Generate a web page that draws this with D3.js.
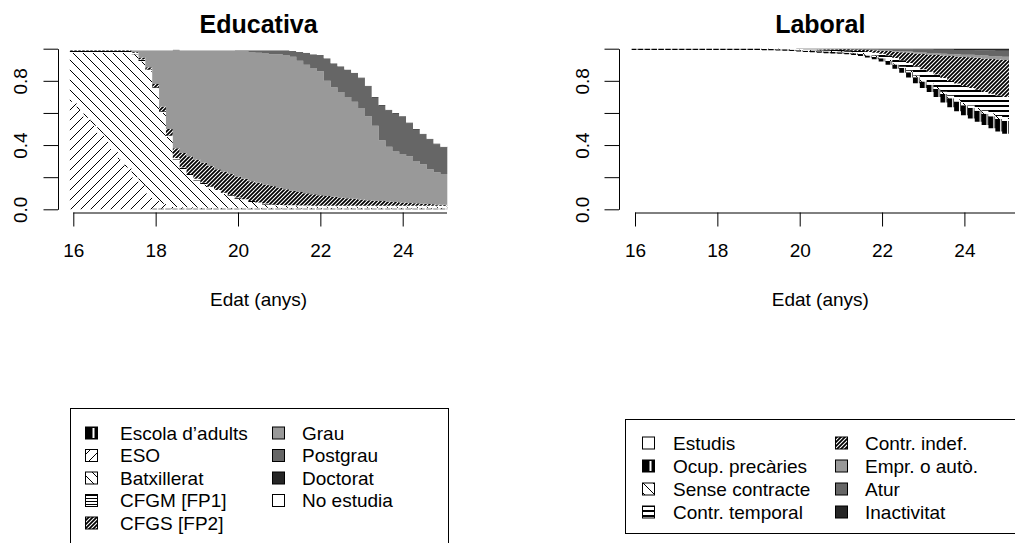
<!DOCTYPE html>
<html>
<head>
<meta charset="utf-8">
<script src="https://cdn.jsdelivr.net/npm/d3@7"></script>
<style>
  body { margin: 0; background: #fff; }
  svg { display: block; font-family: "Liberation Sans", Arial, sans-serif; }
</style>
</head>
<body>
<svg id="chart" width="1015" height="543"></svg>
<script>
// --- dades ---
const ageTicks = [16, 18, 20, 22, 24];
const yTicks = [0, 0.2, 0.4, 0.6, 0.8, 1];
const yLabelled = [0, 0.4, 0.8];
// una columna cada dos mesos, de 16 a 25 anys
const positions = d3.range(55).map(k => 16 + k / 6);

const eduStates = ["Escola d’adults", "ESO", "Batxillerat", "CFGM [FP1]", "CFGS [FP2]", "Grau", "Postgrau", "Doctorat", "No estudia"];
const eduFills = ["vbar", "slash", "bslash", "hlines", "dense", "#999999", "#666666", "#262626", "#ffffff"];

const eduEscola = [0,0,0,0,0,0,0,0,0,0,0,0,.005,.005,.005,.005,.005,.005,.005,.005,.005,.005,.005,.005,.005,.005,.005,.005,.005,.005,.005,.005,.005,.005,.005,.005,.005,.005,.005,.005,.005,.005,.005,.005,.005,.005,.005,.005,.005,.005,.005,.005,.005,.005,.005];
const eduESO = [.67,.62,.57,.52,.47,.42,.37,.31,.26,.20,.15,.10,.055,.03,.015,.01,.008,.007,.006,.005,.005,.005,.005,.005,.005,.005,.005,.005,.005,.005,.005,.005,.005,.005,.005,.005,.005,.005,.005,.005,.005,.005,.005,.005,.005,.005,.005,.005,.005,.005,.005,.005,.005,.005,.005];
const eduBatx = [.305,.355,.405,.455,.505,.555,.605,.665,.715,.765,.77,.76,.69,.565,.43,.295,.237,.198,.169,.145,.12,.10,.085,.07,.055,.045,.035,.027,.02,.015,.012,.01,.01,.009,.008,.008,.008,.008,.008,.008,.008,.008,.008,.008,.008,.008,.008,.008,.008,.008,.008,.008,.008,.008,.008];
const eduCFGM = [.01,.01,.01,.01,.01,.01,.01,.01,.01,.01,.012,.01,.01,.01,.01,.01,.01,.01,.01,.01,.01,.01,.008,.008,.008,.007,.007,.006,.006,.005,.005,.005,.005,.005,.005,.004,.004,.004,.004,.004,.004,.004,.004,.004,.004,.004,.004,.004,.004,.004,.004,.004,.004,.004,.004];
const eduCFGS = [.005,.005,.005,.005,.005,.005,.005,.005,.005,.005,.013,.015,.02,.03,.04,.06,.09,.11,.12,.125,.13,.13,.132,.132,.132,.128,.123,.122,.119,.115,.108,.10,.09,.084,.077,.072,.066,.061,.056,.051,.047,.043,.039,.035,.032,.029,.026,.023,.02,.018,.016,.013,.011,.008,.006];
const eduGrau = [0,0,0,0,0,0,0,0,0,.01,.045,.105,.21,.35,.49,.615,.64,.66,.68,.70,.72,.74,.755,.77,.78,.795,.805,.81,.815,.82,.83,.835,.835,.817,.80,.786,.772,.717,.682,.657,.631,.605,.569,.523,.466,.379,.342,.315,.303,.29,.262,.245,.217,.20,.192];
const eduPostgrau = [0,0,0,0,0,0,0,0,0,0,0,0,0,0,0,0,0,0,0,0,0,0,0,0,.005,.005,.01,.015,.02,.025,.025,.03,.035,.055,.075,.085,.10,.14,.15,.16,.17,.18,.185,.185,.175,.215,.225,.235,.23,.205,.195,.185,.185,.175,.165];
const eduDoctorat = [0,0,0,0,0,0,0,0,0,0,0,0,0,0,0,0,0,0,0,0,0,0,0,0,0,0,0,0,0,0,0,0,0,0,0,0,0,0,0,0,0,0,.005,.005,.005,.005,.005,.005,.005,.005,.005,.005,.005,.005,.005];
const eduNoEstudia = [.01,.01,.01,.01,.01,.01,.01,.01,.01,.01,.01,.01,.01,.01,.01,.01,.01,.01,.01,.01,.01,.01,.01,.01,.01,.01,.01,.01,.01,.01,.01,.01,.015,.02,.025,.035,.04,.06,.09,.11,.13,.15,.18,.23,.30,.35,.38,.40,.42,.46,.50,.53,.56,.59,.61];

const labStates = ["Estudis", "Ocup. precàries", "Sense contracte", "Contr. temporal", "Contr. indef.", "Empr. o autò.", "Atur", "Inactivitat"];
const labFills = ["#ffffff", "vbar", "bslash", "hbold", "dense", "#999999", "#666666", "#262626"];

const labEstudis = [.992,.992,.992,.992,.992,.992,.992,.992,.992,.992,.992,.992,.992,.992,.992,.992,.992,.992,.992,.99,.99,.989,.988,.985,.983,.98,.978,.975,.972,.97,.968,.965,.96,.955,.945,.935,.92,.90,.875,.85,.82,.785,.755,.73,.70,.665,.635,.61,.585,.565,.545,.525,.505,.485,.47];
const labOcup = [.008,.008,.008,.008,.008,.008,.008,.008,.008,.008,.008,.008,.008,.008,.008,.008,.008,.008,.008,.008,.008,.008,.008,.008,.008,.008,.008,.009,.01,.01,.01,.01,.011,.012,.013,.014,.021,.024,.027,.03,.034,.038,.041,.045,.049,.053,.057,.061,.063,.066,.068,.07,.074,.077,.08];
const labSense = [0,0,0,0,0,0,0,0,0,0,0,0,0,0,0,0,0,0,0,.002,.001,.002,.002,.004,.004,.004,.005,.005,.005,.005,.006,.006,.006,.006,.007,.008,.005,.006,.007,.008,.009,.01,.011,.012,.013,.014,.015,.015,.016,.016,.017,.018,.019,.019,.02];
const labTemporal = [0,0,0,0,0,0,0,0,0,0,0,0,0,0,0,0,0,0,0,0,.001,.001,.002,.003,.003,.005,.006,.006,.007,.008,.008,.009,.01,.012,.015,.018,.022,.027,.033,.04,.048,.057,.065,.07,.077,.085,.092,.098,.104,.109,.114,.118,.122,.127,.13];
const labIndef = [0,0,0,0,0,0,0,0,0,0,0,0,0,0,0,0,0,0,0,0,0,0,0,0,0,0,0,.002,.003,.004,.005,.006,.008,.01,.013,.016,.02,.028,.039,.05,.064,.08,.095,.107,.122,.14,.155,.167,.18,.19,.199,.208,.216,.224,.23];
const labEmpr = [0,0,0,0,0,0,0,0,0,0,0,0,0,0,0,0,0,0,0,0,0,0,0,0,0,0,0,0,0,0,0,0,0,0,0,.002,.003,.004,.005,.006,.007,.008,.009,.01,.011,.012,.013,.014,.015,.016,.017,.018,.018,.019,.02];
const labAtur = [0,0,0,0,0,0,0,0,0,0,0,0,0,0,0,0,0,0,0,0,0,0,0,0,0,0,0,0,0,0,0,.001,.002,.002,.004,.004,.006,.008,.01,.012,.014,.017,.019,.021,.022,.024,.026,.027,.029,.03,.031,.033,.035,.037,.038];
const labInact = [0,0,0,0,0,0,0,0,0,0,0,0,0,0,0,0,0,0,0,0,0,0,0,0,.002,.003,.003,.003,.003,.003,.003,.003,.003,.003,.003,.003,.003,.003,.004,.004,.004,.005,.005,.005,.006,.007,.007,.008,.008,.008,.009,.01,.011,.012,.012];

const eduValues = [eduEscola, eduESO, eduBatx, eduCFGM, eduCFGS, eduGrau, eduPostgrau, eduDoctorat, eduNoEstudia];
const labValues = [labEstudis, labOcup, labSense, labTemporal, labIndef, labEmpr, labAtur, labInact];

// --- dibuix ---
const svg = d3.select("#chart");
const defs = svg.append("defs");
const FONT = 19;
const yScale = d3.scaleLinear().domain([0, 1]).range([209.3, 48.7]);
const half = 1 / 12; // mitja columna (anys)

// trames de línies (coordenades de pàgina, contínues entre columnes)
function hatch(id, w, h, bg, draw) {
    const p = defs.append("pattern").attr("id", id)
        .attr("patternUnits", "userSpaceOnUse").attr("width", w).attr("height", h);
    p.append("rect").attr("width", w).attr("height", h).attr("fill", bg);
    draw(p);
    return p;
}
hatch("slash", 10, 10, "#fff", p => p.append("path")
    .attr("d", "M0,10L10,0M-1,1L1,-1M9,11L11,9").attr("stroke", "#000").attr("stroke-width", 1));
hatch("bslash", 10, 10, "#fff", p => p.append("path")
    .attr("d", "M0,0L10,10M-1,9L1,11M9,-1L11,1").attr("stroke", "#000").attr("stroke-width", 1));
hatch("hlines", 4, 3, "#fff", p => p.append("rect")
    .attr("y", 0).attr("width", 4).attr("height", 1).attr("fill", "#000"));
hatch("hbold", 4, 5, "#fff", p => p.append("rect")
    .attr("y", 0).attr("width", 4).attr("height", 2).attr("fill", "#000"));
hatch("dense", 4, 4, "#000", p => p.append("path")
    .attr("d", "M0,4L4,0M-1,1L1,-1M3,5L5,3").attr("stroke", "#fff").attr("stroke-width", 1.1));

function fillFor(f, panelId) {
    if (f.startsWith("#")) return f;
    if (f === "vbar") return `url(#vbar-${panelId})`;
    return `url(#${f})`;
}

function drawPanel(cfg) {
    const xScale = d3.scaleLinear().domain([16, 24]).range([cfg.x16, cfg.x16 + 8 * 41.175]);
    const colW = xScale(16 + 2 * half) - xScale(16);

    // barra negra amb línia blanca vertical, una per columna
    const vb = hatch(`vbar-${cfg.id}`, colW, 10, "#000", p => p.append("rect")
        .attr("x", colW - 2).attr("width", 1.3).attr("height", 10).attr("fill", "#fff"));
    vb.attr("x", xScale(positions[0] - half));

    const rows = positions.map((pos, i) => {
        const r = { pos };
        cfg.states.forEach((s, j) => r[s] = cfg.values[j][i]);
        return r;
    });
    const series = d3.stack().keys(cfg.states)(rows);

    const area = d3.area().x(d => d.x).y0(d => d.y0).y1(d => d.y1);
    const g = svg.append("g");
    g.selectAll("path.state")
        .data(series)
        .join("path")
        .attr("class", "state")
        .attr("fill", (s, j) => fillFor(cfg.fills[j], cfg.id))
        .attr("d", s => area(s.flatMap((d, i) => {
            const x0 = xScale(positions[i] - half), x1 = xScale(positions[i] + half);
            return [{ x: x0, y0: yScale(d[0]), y1: yScale(d[1]) },
                    { x: x1, y0: yScale(d[0]), y1: yScale(d[1]) }];
        })));

    // eix Y
    const yAxis = svg.append("g")
        .attr("transform", `translate(${cfg.axisX},0)`)
        .call(d3.axisLeft(yScale).tickValues(yTicks).tickSize(14.5).tickSizeOuter(0)
            .tickFormat(d => yLabelled.includes(d) ? d.toFixed(1) : ""));
    yAxis.attr("font-size", FONT).attr("font-family", null);
    yAxis.selectAll("text")
        .attr("x", 0).attr("dy", 0).attr("text-anchor", "middle")
        .attr("transform", `translate(${cfg.labelX - cfg.axisX},0) rotate(-90)`);

    // eix X
    const xAxis = svg.append("g")
        .attr("transform", "translate(0,212.5)")
        .call(d3.axisBottom(xScale).tickValues(ageTicks).tickSize(14).tickSizeOuter(0)
            .tickFormat(d3.format("d")));
    xAxis.attr("font-size", FONT).attr("font-family", null);
    xAxis.select(".domain").attr("d", `M${xScale(16)},0.5H${cfg.axisEnd}`);
    xAxis.selectAll("text").attr("y", 44.5).attr("dy", 0);

    const cx = (xScale(positions[0] - half) + xScale(positions[positions.length - 1] + half)) / 2;
    svg.append("text").attr("x", cx).attr("y", 33).attr("text-anchor", "middle")
        .attr("font-size", 25).attr("font-weight", "bold").text(cfg.title);
    svg.append("text").attr("x", cx).attr("y", 306).attr("text-anchor", "middle")
        .attr("font-size", FONT).text("Edat (anys)");
}

drawPanel({ id: "edu", title: "Educativa", states: eduStates, values: eduValues, fills: eduFills,
    x16: 73.3, axisX: 58, labelX: 27, axisEnd: 447 });
drawPanel({ id: "lab", title: "Laboral", states: labStates, values: labValues, fills: labFills,
    x16: 635, axisX: 619, labelX: 589, axisEnd: 1015 });

// --- llegendes ---
function legend(cfg) {
    const g = svg.append("g");
    g.append("rect").attr("x", cfg.box[0]).attr("y", cfg.box[1])
        .attr("width", cfg.box[2]).attr("height", cfg.box[3])
        .attr("fill", "none").attr("stroke", "#000").attr("stroke-width", 1);
    const items = cfg.states.map((s, i) => {
        const col = i < cfg.perCol ? 0 : 1;
        const row = i % cfg.perCol;
        return { s, f: cfg.fills[i], sx: cfg.swatchX[col], tx: cfg.textX[col], y: cfg.rowY[row] };
    });
    const it = g.selectAll("g.item").data(items).join("g").attr("class", "item");
    it.append("rect")
        .attr("x", d => d.sx).attr("y", d => d.y - 6).attr("width", 12).attr("height", 12)
        .attr("fill", d => d.f === "vbar" ? "#000" : fillFor(d.f, cfg.id))
        .attr("stroke", "#000").attr("stroke-width", 1);
    it.filter(d => d.f === "vbar").append("rect")
        .attr("x", d => d.sx + 7).attr("y", d => d.y - 5).attr("width", 2).attr("height", 10).attr("fill", "#fff");
    it.append("text")
        .attr("x", d => d.tx).attr("y", d => d.y).attr("dy", "0.36em")
        .attr("font-size", FONT).text(d => d.s);
}

legend({ id: "edu", states: eduStates, fills: eduFills, perCol: 5,
    box: [70.5, 408.5, 378, 140], swatchX: [85.5, 272.5], textX: [120, 302],
    rowY: [433, 455.5, 478, 500.5, 523] });
legend({ id: "lab", states: labStates, fills: labFills, perCol: 4,
    box: [625.5, 419.5, 400, 114], swatchX: [642.5, 835.5], textX: [673, 865],
    rowY: [443, 466, 489, 512] });
</script>
</body>
</html>
